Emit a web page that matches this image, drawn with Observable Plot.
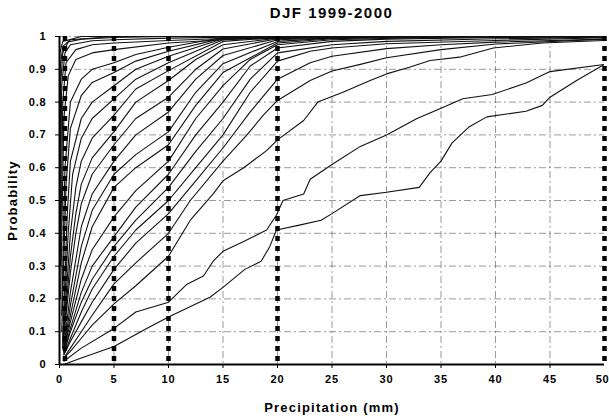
<!DOCTYPE html>
<html><head><meta charset="utf-8">
<script src="https://cdn.jsdelivr.net/npm/d3@7"></script>
<script src="https://cdn.jsdelivr.net/npm/@observablehq/plot@0.6"></script>
<style>
body{margin:0;background:#fff;font-family:"Liberation Sans",Arial,sans-serif;}
#title{height:24px;line-height:25px;font-weight:bold;font-size:15px;letter-spacing:1.5px;text-align:center;padding-left:59px;padding-right:5px;box-sizing:border-box;width:609px;}
</style></head>
<body>
<div id="title">DJF 1999-2000</div>
<div id="chart"></div>
<script>
const title = "DJF 1999-2000";
const xTicks = [0,5,10,15,20,25,30,35,40,45,50];
const yTicks = [0,0.1,0.2,0.3,0.4,0.5,0.6,0.7,0.8,0.9,1];
const thresholds = [0.5,5,10,20,50];

// empirical CDFs: [precipitation mm, probability]
const c1 = [[0.4,0],[2,0.02],[5,0.055],[8,0.11],[10,0.145],[13.8,0.205],[15,0.235],[17,0.29],[18.5,0.315],[19.3,0.36],[19.9,0.41],[22,0.425],[24,0.44],[25,0.46],[27.6,0.515],[30,0.525],[33,0.54],[34,0.585],[35,0.62],[36,0.675],[37.6,0.725],[39.2,0.755],[42.8,0.772],[44.3,0.79],[45,0.815],[47.4,0.865],[50,0.915]];
const c2 = [[0.4,0.01],[2,0.05],[5,0.11],[7,0.16],[10,0.19],[11.7,0.245],[13.2,0.27],[14.1,0.315],[15,0.345],[16.9,0.375],[19,0.41],[19.9,0.455],[20.5,0.5],[22.4,0.52],[23,0.565],[25,0.61],[27.6,0.665],[30,0.7],[32.8,0.75],[34.9,0.78],[37,0.81],[39.7,0.823],[42.8,0.858],[45,0.893],[50,0.915]];
const c3 = [[0.4,0.02],[1,0.04],[2,0.08],[3,0.12],[5,0.185],[7,0.24],[10,0.33],[12,0.44],[14.1,0.52],[15,0.56],[16.9,0.6],[19,0.652],[20,0.685],[22.4,0.744],[23.7,0.8],[26,0.83],[28.5,0.866],[30,0.886],[32.1,0.906],[34,0.927],[36.7,0.937],[39.8,0.965],[44.3,0.98],[50,0.988]];
const c4 = [[0.4,0.02],[1,0.05],[2,0.1],[3,0.15],[5,0.246],[7,0.31],[10,0.4],[12,0.5],[15,0.62],[17.2,0.7],[18.7,0.76],[20,0.805],[23,0.866],[25,0.895],[27.6,0.915],[30,0.935],[35,0.96],[40,0.977],[50,0.992]];
const c5 = [[0.4,0.03],[1,0.07],[2,0.13],[3,0.19],[5,0.29],[7,0.37],[10,0.46],[12.5,0.56],[15,0.66],[17.5,0.77],[20,0.87],[23,0.92],[25,0.94],[30,0.963],[35,0.975],[40,0.983],[50,0.992]];
const c6 = [[0.4,0.03],[1,0.08],[2,0.16],[3,0.23],[5,0.33],[7,0.41],[10,0.5],[12.5,0.6],[15,0.7],[17.5,0.83],[20,0.925],[23,0.955],[25,0.965],[30,0.978],[40,0.988],[50,0.996]];
const c7 = [[0.4,0.035],[1,0.1],[2,0.19],[3,0.26],[5,0.36],[7,0.44],[10,0.54],[12.5,0.65],[15,0.75],[17.5,0.87],[20,0.95],[25,0.975],[30,0.985],[40,0.993],[50,0.998]];
const c8 = [[0.4,0.035],[1,0.11],[2,0.22],[3,0.3],[5,0.39],[7,0.48],[10,0.58],[12.5,0.7],[15,0.8],[17.5,0.91],[20,0.965],[25,0.985],[30,0.992],[40,0.997],[50,1]];
const c9 = [[0.4,0.04],[1,0.13],[2,0.26],[3,0.35],[5,0.45],[7,0.53],[10,0.62],[12.5,0.75],[15,0.85],[17.5,0.93],[20,0.975],[25,0.99],[35,0.998],[50,1]];
const c10 = [[0.4,0.04],[1,0.15],[2,0.31],[3,0.42],[5,0.54],[7,0.6],[10,0.67],[12.5,0.79],[15,0.89],[20,0.98],[25,0.993],[35,1],[50,1]];
const c11 = [[0.4,0.04],[1,0.18],[2,0.36],[3,0.47],[5,0.58],[7,0.64],[10,0.71],[12.5,0.83],[15,0.917],[20,0.985],[25,0.995],[35,1],[50,1]];
const c12 = [[0.4,0.05],[1,0.22],[2,0.42],[3,0.52],[5,0.62],[7,0.7],[10,0.77],[12.5,0.87],[15,0.942],[20,0.99],[30,1],[50,1]];
const c13 = [[0.3,0.05],[1,0.28],[1.5,0.4],[2,0.49],[3,0.58],[5,0.67],[7,0.75],[10,0.815],[12.5,0.9],[15,0.962],[20,0.993],[30,1],[50,1]];
const c14 = [[0.3,0.05],[1,0.33],[1.5,0.46],[2,0.55],[3,0.63],[5,0.71],[7,0.8],[10,0.866],[12.5,0.93],[15,0.975],[20,0.995],[30,1],[50,1]];
const c15 = [[0.3,0.06],[1,0.4],[1.5,0.54],[2,0.62],[3,0.69],[5,0.76],[7,0.84],[10,0.896],[15,0.985],[20,0.997],[30,1],[50,1]];
const c16 = [[0.3,0.07],[0.8,0.4],[1.2,0.58],[2,0.69],[3,0.75],[5,0.81],[7,0.87],[10,0.92],[15,0.99],[25,1],[50,1]];
const c17 = [[0.3,0.08],[0.7,0.45],[1,0.62],[2,0.75],[3,0.8],[5,0.85],[7,0.9],[10,0.94],[15,0.993],[25,1],[50,1]];
const c18 = [[0.2,0.1],[0.6,0.55],[1,0.72],[2,0.82],[3,0.86],[5,0.89],[7,0.925],[10,0.955],[15,0.995],[50,1]];
const c19 = [[0.2,0.15],[0.5,0.6],[1,0.8],[2,0.87],[3,0.9],[5,0.92],[7,0.945],[10,0.967],[15,0.997],[50,1]];
const c20 = [[0.1,0.2],[0.4,0.75],[0.8,0.88],[1.5,0.93],[3,0.95],[5,0.96],[10,0.98],[20,1],[50,1]];
const c21 = [[0.1,0.3],[0.3,0.8],[0.6,0.92],[1.5,0.96],[3,0.975],[5,0.98],[10,0.988],[20,1],[50,1]];
const c22 = [[0.05,0.3],[0.2,0.85],[0.5,0.95],[1,0.975],[3,0.987],[5,0.99],[10,0.995],[20,1],[50,1]];
const c23 = [[0,0.2],[0.1,0.85],[0.3,0.95],[0.8,0.983],[2,0.992],[5,0.997],[10,1],[50,1]];
const c24 = [[0,0.3],[0.05,0.9],[0.3,0.97],[1,0.99],[5,1],[50,1]];
const c25 = [[0,0.5],[0.03,0.95],[0.3,0.985],[2,1],[50,1]];

const curves = [c1,c2,c3,c4,c5,c6,c7,c8,c9,c10,c11,c12,c13,c14,c15,c16,c17,c18,c19,c20,c21,c22,c23,c24,c25];
const rows = curves.flatMap((c, i) => c.map(([x, p]) => ({series: i, x, p})));

const font = '"Liberation Sans", Arial, sans-serif';
const fmt = d => String(+d.toFixed(1));

const chart = Plot.plot({
  width: 609, height: 392,
  marginTop: 12, marginLeft: 59, marginRight: 5, marginBottom: 52,
  style: {fontFamily: font, fontWeight: "bold", fontSize: "11px", color: "#000", background: "#fff", overflow: "visible"},
  x: {domain: [0, 50]},
  y: {domain: [0, 1]},
  marks: [
    Plot.ruleX(xTicks.filter(d => d > 0 && d < 50), {stroke: "#555", strokeWidth: 0.8, strokeDasharray: "7,3,2,3", strokeOpacity: 0.75}),
    Plot.ruleY(yTicks.filter(d => d > 0), {stroke: "#555", strokeWidth: 0.8, strokeDasharray: "7,3,2,3", strokeOpacity: 0.75}),
    Plot.line(rows, {x: "x", y: "p", z: "series", stroke: "#111", strokeWidth: 1.1, clip: true}),
    Plot.ruleX(thresholds, {stroke: "#000", strokeWidth: 4.5, strokeDasharray: "5,5"}),
    Plot.ruleY([0], {stroke: "#000", strokeWidth: 2}),
    Plot.ruleX([0], {stroke: "#000", strokeWidth: 2}),
    Plot.axisX(xTicks.slice(0, -1), {tickSize: 4, tickPadding: 7, tickFormat: d => String(d), label: "Precipitation (mm)", labelAnchor: "center", labelArrow: false, labelOffset: 47, fontSize: 11}),
    Plot.axisX(xTicks.slice(-1), {tickSize: 4, tickPadding: 7, tickFormat: d => String(d), label: null, textAnchor: "end", dx: 5, fontSize: 11}),
    Plot.axisY(yTicks, {tickSize: 4, tickPadding: 9, tickFormat: fmt, label: "Probability", labelAnchor: "center", labelArrow: false, labelOffset: 52, fontSize: 11})
  ]
});
document.getElementById("chart").appendChild(chart);
const svg = d3.select(chart);
svg.selectAll("g[aria-label='x-axis tick label'] text, g[aria-label='y-axis tick label'] text").style("letter-spacing", "0.8px");
svg.selectAll("g[aria-label='x-axis label'] text, g[aria-label='y-axis label'] text").style("font-size", "13px").style("letter-spacing", "1.2px");
</script>
</body></html>
